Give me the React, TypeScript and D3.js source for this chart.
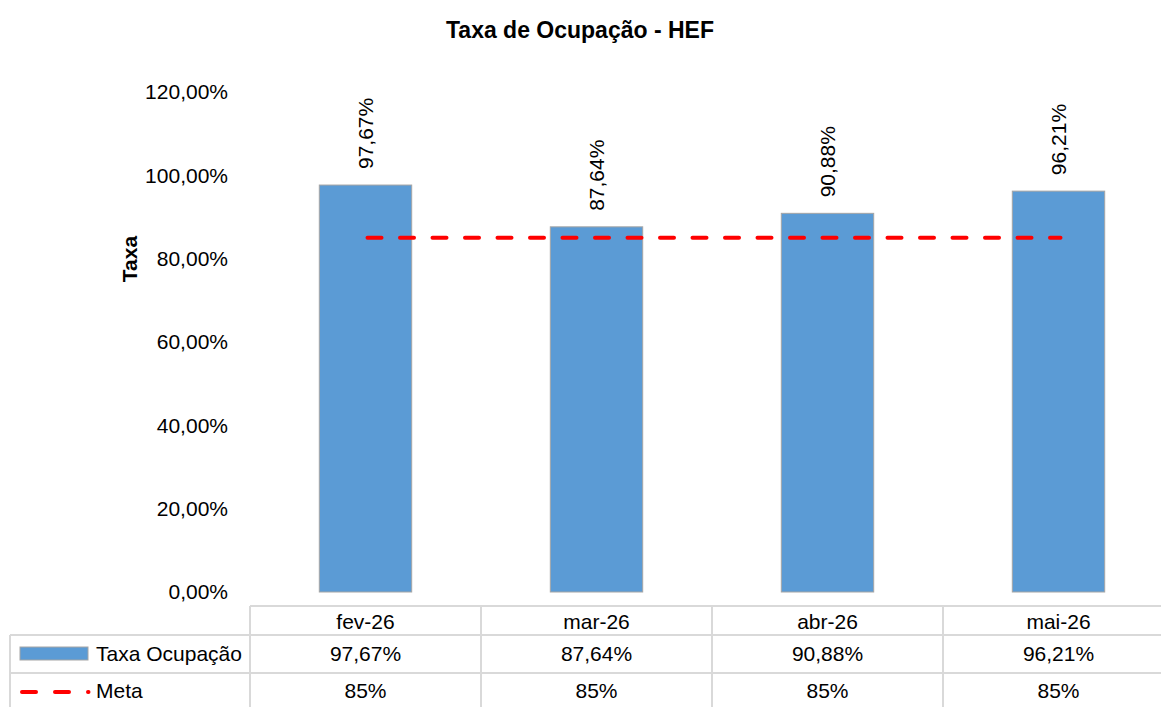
import React, { useEffect, useRef } from "react";
import * as d3 from "d3";

const categories = ["fev-26", "mar-26", "abr-26", "mai-26"];
const taxaValues = [97.67, 87.64, 90.88, 96.21];
const metaValues = [85, 85, 85, 85];
const yTicks = [0, 20, 40, 60, 80, 100, 120];
const title = "Taxa de Ocupação - HEF";
const yLabel = "Taxa";
const seriesNames = ["Taxa Ocupação", "Meta"];

const W = 1161;
const H = 707;
const FONT = "'Liberation Sans', Arial, sans-serif";
const FS = 21;

export default function App() {
  const ref = useRef<SVGSVGElement | null>(null);

  useEffect(() => {
    document.body.style.margin = "0";
    const svg = d3.select(ref.current);
    svg.selectAll("*").remove();

    const plotLeft = 250;
    const plotRight = 1174;
    const x = d3.scaleBand().domain(categories).range([plotLeft, plotRight]).paddingInner(0.6).paddingOuter(0.3);
    const xCol = d3.scaleBand().domain(categories).range([plotLeft, plotRight]);
    const y = d3.scaleLinear().domain([0, 120]).range([592, 92]);
    const fmt = (v: number) => v.toFixed(2).replace(".", ",") + "%";

    svg.append("rect").attr("width", W).attr("height", H).attr("fill", "#fff");

    svg.append("text").attr("x", 580).attr("y", 38).attr("text-anchor", "middle")
      .attr("font-family", FONT).attr("font-weight", "bold").attr("font-size", 23).attr("fill", "#000").text(title);

    // y ticks
    svg.append("g").selectAll("text").data(yTicks).join("text")
      .attr("x", 228).attr("y", (d) => y(d)).attr("dy", "0.35em").attr("text-anchor", "end")
      .attr("font-family", FONT).attr("font-size", FS).attr("fill", "#000")
      .text((d) => fmt(d));

    svg.append("text").attr("transform", `translate(137,259) rotate(-90)`).attr("text-anchor", "middle")
      .attr("font-family", FONT).attr("font-weight", "bold").attr("font-size", 21).attr("fill", "#000").text(yLabel);

    // bars
    svg.append("g").selectAll("rect").data(taxaValues).join("rect")
      .attr("x", (_, i) => x(categories[i])!).attr("width", x.bandwidth())
      .attr("y", (d) => y(d)).attr("height", (d) => y(0) - y(d))
      .attr("fill", "#5B9BD5").attr("stroke", "#A5A5A5").attr("stroke-width", 1);

    // data labels
    svg.append("g").selectAll("text").data(taxaValues).join("text")
      .attr("transform", (d, i) => `translate(${x(categories[i])! + x.bandwidth() / 2},${y(d) - 16}) rotate(-90)`)
      .attr("dy", "0.35em").attr("text-anchor", "start")
      .attr("font-family", FONT).attr("font-size", FS).attr("fill", "#000")
      .text((d) => fmt(d));

    // meta line
    const line = d3.line<number>().x((_, i) => xCol(categories[i])! + xCol.bandwidth() / 2).y((d) => y(d));
    svg.append("path").datum(metaValues).attr("d", line).attr("fill", "none")
      .attr("stroke", "#FF0000").attr("stroke-width", 4).attr("stroke-dasharray", "14,18.5").attr("stroke-linecap", "round")
      .attr("transform", "translate(2,0)");

    // data table
    const grid = "#D9D9D9";
    const rowTop = 606, r1 = 635, r2 = 673, rowBottom = 711;
    const g = svg.append("g").attr("stroke", grid).attr("stroke-width", 2);
    g.append("line").attr("x1", plotLeft).attr("x2", W).attr("y1", rowTop).attr("y2", rowTop);
    g.append("line").attr("x1", 10).attr("x2", W).attr("y1", r1).attr("y2", r1);
    g.append("line").attr("x1", 10).attr("x2", W).attr("y1", r2).attr("y2", r2);
    g.append("line").attr("x1", 10).attr("x2", W).attr("y1", rowBottom).attr("y2", rowBottom);
    g.append("line").attr("x1", 10).attr("x2", 10).attr("y1", r1).attr("y2", rowBottom);
    categories.forEach((c) => {
      g.append("line").attr("x1", xCol(c)!).attr("x2", xCol(c)!).attr("y1", rowTop).attr("y2", rowBottom);
    });

    const cell = (txt: string, cx: number, cy: number) =>
      svg.append("text").attr("x", cx).attr("y", cy).attr("dy", "0.35em").attr("text-anchor", "middle")
        .attr("font-family", FONT).attr("font-size", FS).attr("fill", "#000").text(txt);
    categories.forEach((c, i) => {
      const cx = xCol(c)! + xCol.bandwidth() / 2;
      cell(c, cx, (rowTop + r1) / 2 + 1);
      cell(fmt(taxaValues[i]), cx, (r1 + r2) / 2);
      cell(metaValues[i] + "%", cx, (r2 + 707) / 2 + 1);
    });

    // legend keys
    svg.append("rect").attr("x", 20).attr("y", 647).attr("width", 68).attr("height", 13)
      .attr("fill", "#5B9BD5").attr("stroke", "#A5A5A5").attr("stroke-width", 1);
    svg.append("text").attr("x", 96).attr("y", 654).attr("dy", "0.35em").attr("font-family", FONT)
      .attr("font-size", FS).attr("fill", "#000").text(seriesNames[0]);
    svg.append("line").attr("x1", 22).attr("x2", 88.5).attr("y1", 692).attr("y2", 692)
      .attr("stroke", "#FF0000").attr("stroke-width", 4).attr("stroke-dasharray", "14,19").attr("stroke-linecap", "round");
    svg.append("text").attr("x", 96).attr("y", 691).attr("dy", "0.35em").attr("font-family", FONT)
      .attr("font-size", FS).attr("fill", "#000").text(seriesNames[1]);
  }, []);

  return <svg ref={ref} width={W} height={H} style={{ display: "block" }} />;
}
